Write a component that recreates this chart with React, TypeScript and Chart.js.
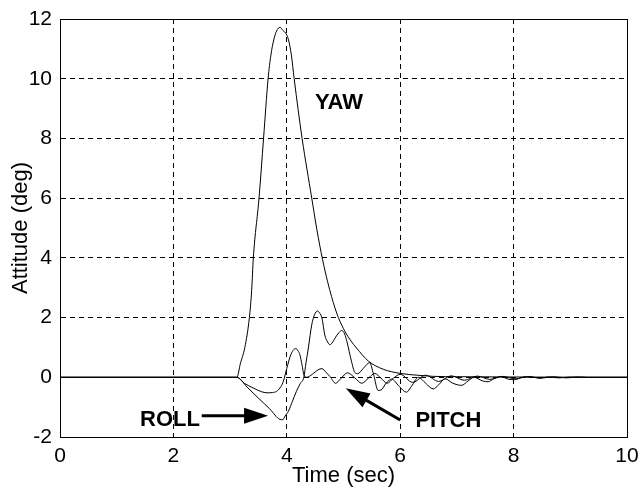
import React, { useEffect, useRef } from "react";
import { Chart, registerables } from "chart.js";

Chart.register(...registerables);

// ---- data ----
const xTickStep = 2;
const xMin = 0;
const xMax = 10;
const yMin = -2;
const yMax = 12;

const xTitle = "Time (sec)";
const yTitle = "Attitude (deg)";

const yawT = [0, 3.12, 3.18, 3.26, 3.34, 3.38, 3.41, 3.51, 3.59, 3.67, 3.72, 3.77, 3.82, 3.88, 3.93, 3.99, 4.03, 4.08, 4.13, 4.27, 4.44, 4.53, 4.63, 4.72, 4.79, 4.85, 4.91, 4.97, 5.03, 5.13, 5.23, 5.44, 5.7, 6.0, 6.3, 6.6, 7.0, 8.0, 9.3, 10];
const yawV = [0, 0, 0.45, 1.0, 2.0, 2.9, 4.0, 6.0, 8.0, 10.0, 10.8, 11.3, 11.6, 11.72, 11.62, 11.5, 11.3, 10.8, 10.0, 8.0, 6.0, 4.95, 3.95, 3.2, 2.7, 2.32, 2.0, 1.74, 1.52, 1.22, 0.98, 0.54, 0.27, 0.13, 0.07, 0.03, 0.02, 0.01, 0, 0];

const rollT = [0, 3.12, 3.3, 3.5, 3.7, 3.88, 3.93, 3.97, 4.03, 4.1, 4.17, 4.24, 4.3, 4.34, 4.38, 4.44, 4.49, 4.54, 4.58, 4.62, 4.67, 4.72, 4.76, 4.81, 4.85, 4.92, 4.97, 5.02, 5.06, 5.14, 5.2, 5.25, 5.35, 5.46, 5.53, 5.61, 5.66, 5.75, 5.85, 5.98, 6.11, 6.2, 6.32, 6.45, 6.58, 6.68, 6.79, 6.93, 7.08, 7.2, 7.3, 7.45, 7.55, 7.65, 7.78, 7.92, 8.02, 8.15, 8.3, 8.45, 8.6, 8.8, 9.0, 9.3, 10];
const rollV = [0, 0, -0.33, -0.7, -1.06, -1.41, -1.42, -1.3, -1.13, -0.8, -0.47, -0.2, 0, 0.5, 0.98, 1.76, 2.1, 2.22, 2.15, 1.98, 1.42, 1.18, 1.09, 1.18, 1.31, 1.5, 1.57, 1.45, 1.2, 0.54, 0.16, 0.12, 0.3, 0.49, 0.1, -0.44, -0.43, -0.2, -0.06, -0.3, -0.5, -0.3, 0, -0.2, -0.39, -0.25, -0.05, -0.2, -0.27, -0.12, 0, -0.12, -0.15, -0.05, 0.02, -0.07, -0.08, 0, 0.02, -0.03, 0.01, -0.02, 0.01, 0, 0];

const pitchT = [0, 3.12, 3.25, 3.41, 3.55, 3.65, 3.75, 3.82, 3.9, 3.94, 4.0, 4.06, 4.11, 4.16, 4.2, 4.23, 4.27, 4.3, 4.35, 4.45, 4.55, 4.62, 4.7, 4.76, 4.86, 4.95, 5.07, 5.2, 5.32, 5.44, 5.55, 5.66, 5.77, 5.88, 6.0, 6.22, 6.45, 6.68, 6.9, 7.13, 7.36, 7.58, 7.8, 8.03, 8.25, 8.48, 8.7, 8.93, 9.15, 9.3, 10];
const pitchV = [0, 0, -0.2, -0.36, -0.48, -0.52, -0.51, -0.47, -0.3, -0.13, 0.3, 0.7, 0.9, 0.96, 0.88, 0.76, 0.4, 0.09, 0, 0.1, 0.25, 0.29, 0.15, 0.03, -0.2, -0.05, 0.15, -0.02, -0.2, -0.03, 0.13, -0.03, -0.2, -0.03, 0.1, -0.17, 0.07, -0.14, 0.05, -0.1, 0.04, -0.07, 0.03, -0.05, 0.02, -0.03, 0.02, -0.02, 0.01, 0, 0];

// annotations (text labels and arrows in data coordinates)
const noteTexts = ["YAW", "ROLL", "PITCH"];
const noteT = [4.92, 1.94, 6.85];
const noteV = [9.19, -1.43, -1.45];

const arrowFromT = [2.5, 6.0];
const arrowFromV = [-1.29, -1.43];
const arrowToT = [3.67, 5.04];
const arrowToV = [-1.29, -0.37];

const FONT = 'Arial, "Liberation Sans", sans-serif';

function toPoints(ts: number[], vs: number[]) {
  return ts.map((t, i) => ({ x: t, y: vs[i] }));
}

function drawArrow(ctx: CanvasRenderingContext2D, x0: number, y0: number, x1: number, y1: number) {
  const headLen = 24;
  const headHalf = 8;
  const ang = Math.atan2(y1 - y0, x1 - x0);
  const c = Math.cos(ang);
  const s = Math.sin(ang);
  const bx = x1 - headLen * c;
  const by = y1 - headLen * s;
  ctx.lineWidth = 3;
  ctx.beginPath();
  ctx.moveTo(x0, y0);
  ctx.lineTo(bx + 2 * c, by + 2 * s);
  ctx.stroke();
  ctx.beginPath();
  ctx.moveTo(x1, y1);
  ctx.lineTo(bx + headHalf * s, by - headHalf * c);
  ctx.lineTo(bx - headHalf * s, by + headHalf * c);
  ctx.closePath();
  ctx.fill();
}

const annotPlugin = {
  id: "annot",
  afterDatasetsDraw(chart: any) {
    const { ctx, chartArea } = chart;
    const xs = chart.scales.x;
    const ys = chart.scales.y;
    ctx.save();
    ctx.fillStyle = "#000";
    ctx.strokeStyle = "#000";
    ctx.font = "bold 22px " + FONT;
    ctx.textAlign = "center";
    ctx.textBaseline = "middle";
    noteTexts.forEach((txt, i) => {
      ctx.fillText(txt, xs.getPixelForValue(noteT[i]), ys.getPixelForValue(noteV[i]));
    });
    arrowFromT.forEach((_, i) => {
      drawArrow(
        ctx,
        xs.getPixelForValue(arrowFromT[i]),
        ys.getPixelForValue(arrowFromV[i]),
        xs.getPixelForValue(arrowToT[i]),
        ys.getPixelForValue(arrowToV[i])
      );
    });
    ctx.lineWidth = 1;
    const l = Math.round(chartArea.left) + 0.5;
    const t = Math.round(chartArea.top) + 0.5;
    const r = Math.round(chartArea.right) + 0.5;
    const b = Math.round(chartArea.bottom) + 0.5;
    ctx.strokeRect(l, t, r - l, b - t);
    ctx.restore();
  },
};

export default function App() {
  const ref = useRef<HTMLCanvasElement | null>(null);
  useEffect(() => {
    if (!ref.current) return;
    const ds = (ts: number[], vs: number[]) => ({
      data: toPoints(ts, vs),
      borderColor: "#000",
      borderWidth: 1,
      pointRadius: 0,
      fill: false,
      cubicInterpolationMode: "monotone" as const,
    });
    const chart = new Chart(ref.current, {
      type: "line",
      data: {
        datasets: [ds(yawT, yawV), ds(rollT, rollV), ds(pitchT, pitchV)],
      },
      options: {
        animation: false,
        responsive: false,
        devicePixelRatio: 1,
        layout: { padding: { top: 19, right: 11, left: 0, bottom: 0 } },
        plugins: { legend: { display: false }, tooltip: { enabled: false } },
        scales: {
          x: {
            type: "linear",
            min: xMin,
            max: xMax,
            ticks: { stepSize: xTickStep, color: "#000", font: { family: FONT, size: 21 }, padding: 7, maxRotation: 0 },
            grid: { color: "#000", lineWidth: 1, drawTicks: false },
            border: { display: true, color: "#000", dash: [5, 4] },
            title: { display: true, text: xTitle, color: "#000", font: { family: FONT, size: 22 }, padding: { top: 0, bottom: 1 } },
            afterFit(scale: any) {
              scale.height = 53;
              scale.paddingLeft = 0;
              scale.paddingRight = 0;
            },
          },
          y: {
            type: "linear",
            min: yMin,
            max: yMax,
            ticks: { stepSize: 2, color: "#000", font: { family: FONT, size: 21 }, padding: 8 },
            grid: { color: "#000", lineWidth: 1, drawTicks: false },
            border: { display: true, color: "#000", dash: [5, 4] },
            title: { display: true, text: yTitle, color: "#000", font: { family: FONT, size: 22 }, padding: { top: 8, bottom: 0 } },
            afterFit(scale: any) {
              scale.width = 60;
              scale.paddingTop = 0;
              scale.paddingBottom = 0;
            },
          },
        },
      } as any,
      plugins: [annotPlugin],
    });
    return () => chart.destroy();
  }, []);
  return (
    <div style={{ position: "absolute", left: 0, top: 0, width: 638, height: 490, background: "#fff" }}>
      <canvas ref={ref} width={638} height={490} style={{ display: "block" }} />
    </div>
  );
}
